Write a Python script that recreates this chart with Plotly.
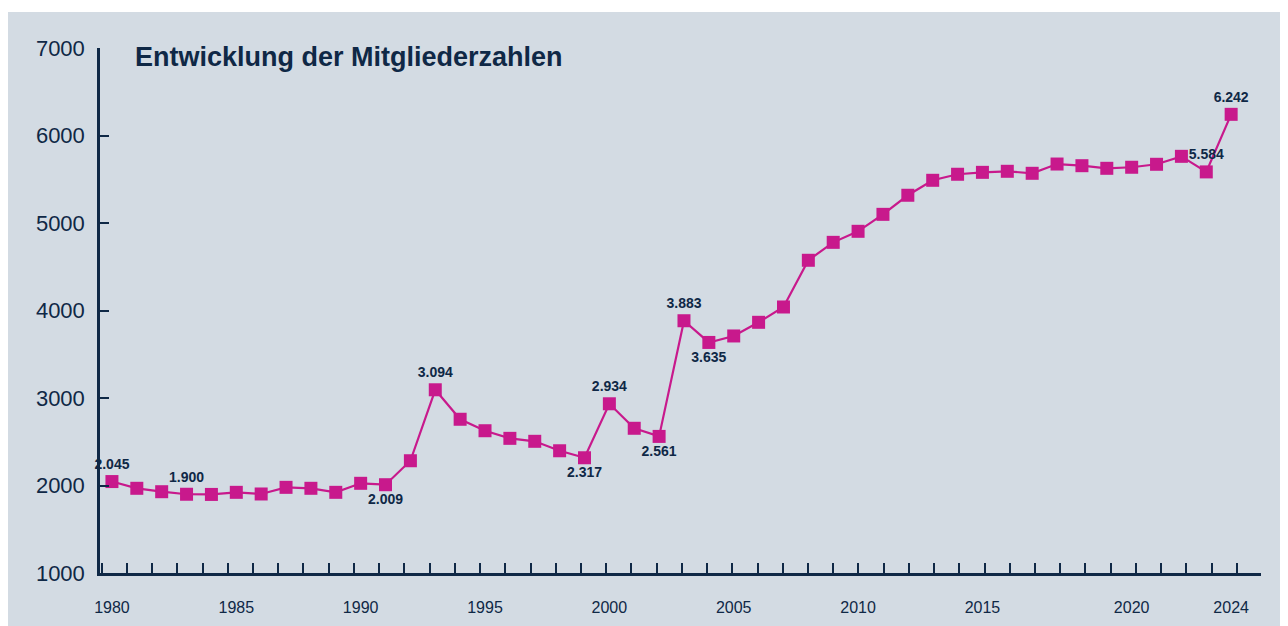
import plotly.graph_objects as go

# Mitglieder je Jahr (46 Messpunkte)
members = [
    2045, 1968, 1929, 1900, 1898, 1922, 1903, 1979, 1968, 1922,
    2025, 2009, 2283, 3094, 2757, 2626, 2539, 2505, 2397, 2317,
    2934, 2654, 2561, 3883, 3635, 3709, 3865, 4040, 4574, 4779,
    4905, 5099, 5317, 5488, 5557, 5579, 5591, 5568, 5674, 5655,
    5625, 5637, 5671, 5762, 5584, 6242,
]
# beschriftete Punkte: Index -> Position der Beschriftung
labelled = {0: "top center", 3: "top center", 11: "bottom center", 13: "top center",
            19: "bottom center", 20: "top center", 22: "bottom center", 23: "top center",
            24: "bottom center", 44: "top center", 45: "top center"}
tick_labels = ["1980", "1985", "1990", "1995", "2000", "2005", "2010", "2015", "2020", "2024"]
tick_index = [0, 5, 10, 15, 20, 25, 30, 35, 41, 45]
y_ticks = [1000, 2000, 3000, 4000, 5000, 6000, 7000]

navy = "#0f2846"
pink = "#c8198c"
bg = "#d3dbe3"

x = list(range(len(members)))
texts = [f"{v:,}".replace(",", ".") if i in labelled else "" for i, v in enumerate(members)]
positions = [labelled.get(i, "top center") for i in x]

fig = go.Figure()
fig.add_trace(go.Scatter(
    x=x, y=members,
    mode="lines+markers+text",
    line=dict(color=pink, width=2.2),
    marker=dict(symbol="square", size=13, color=pink),
    text=texts, textposition=positions,
    textfont=dict(family="Liberation Sans", size=14, color=navy, weight="bold"),
    cliponaxis=False,
    showlegend=False,
))

# weisser Streifen oben
fig.add_shape(type="rect", xref="paper", yref="paper",
              x0=-0.2, x1=1.2, y0=1.0686, y1=1.2,
              fillcolor="white", line_width=0, layer="below")

fig.add_annotation(text="<b>Entwicklung der Mitgliederzahlen</b>", xref="paper", yref="paper",
                   x=0.0284, y=0.983, xanchor="left", yanchor="middle", showarrow=False,
                   font=dict(family="Liberation Sans", size=27, color=navy))

fig.update_xaxes(
    range=[-0.48, 46.2],
    tickmode="array", tickvals=tick_index, ticktext=tick_labels,
    ticks="", showgrid=False, zeroline=False, automargin=False,
    showline=True, linecolor=navy, linewidth=2.5,
    tickfont=dict(family="Liberation Sans", size=16, color=navy),
    ticklabelstandoff=18,
    minor=dict(tickmode="linear", tick0=0.6, dtick=1.0143, ticks="inside",
               ticklen=10, tickwidth=2, tickcolor=navy, showgrid=False),
)
fig.update_yaxes(
    range=[1000, 7000],
    tickmode="array", tickvals=y_ticks,
    ticks="inside", ticklen=9, tickwidth=2, tickcolor=navy,
    showgrid=False, zeroline=False, automargin=False,
    showline=True, linecolor=navy, linewidth=2.5,
    tickfont=dict(family="Liberation Sans", size=22, color=navy),
    ticklabelstandoff=8,
)

fig.update_layout(
    width=1280, height=618,
    margin=dict(l=92, r=27, t=40, b=53),
    paper_bgcolor=bg, plot_bgcolor="rgba(0,0,0,0)",
)
fig.write_html("out.html")
